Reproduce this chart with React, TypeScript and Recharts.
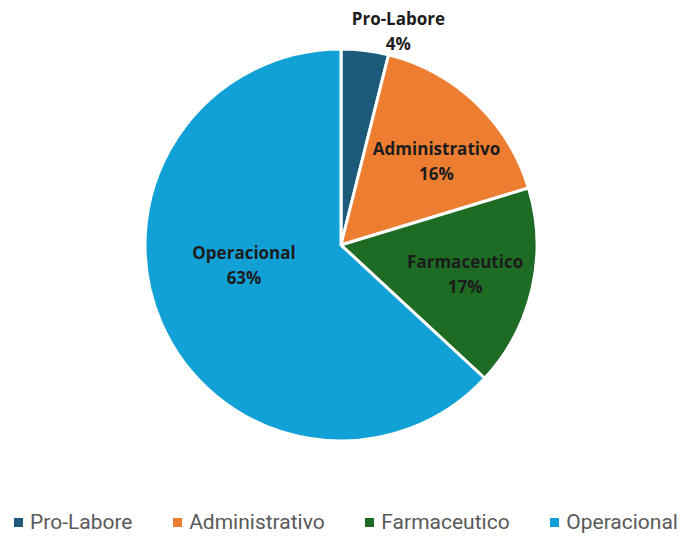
import React from "react";
import { PieChart, Pie, Cell, Legend } from "recharts";

const categories = ["Pro-Labore", "Administrativo", "Farmaceutico", "Operacional"];
const values = [3.9, 16.4, 16.6, 63.1];
const colors = ["#1d5a7c", "#ed7d31", "#1e6b24", "#12a1d6"];
const labelRadiusFactors = [1.13, 0.65, 0.65, 0.505];
const labelAngleOffsets = [-8, -5, 0, -12];

const data = categories.map((name, i) => ({ name, value: values[i] }));

const RAD = Math.PI / 180;

const renderLabel = (props: any) => {
  const { cx, cy, midAngle, outerRadius, percent, index, name } = props;
  const r = outerRadius * labelRadiusFactors[index];
  const a = midAngle + labelAngleOffsets[index];
  const x = cx + r * Math.cos(-a * RAD);
  const y = cy + r * Math.sin(-a * RAD);
  return (
    <text
      x={x}
      y={y}
      textAnchor="middle"
      fill="#1c1c1c"
      fontFamily="'Open Sans', sans-serif"
      fontWeight={700}
      fontSize={17}
    >
      <tspan x={x} dy={-6}>{name}</tspan>
      <tspan x={x} dy={25}>{Math.round(percent * 100)}%</tspan>
    </text>
  );
};

const renderLegend = () => (
  <div style={{ display: "flex", justifyContent: "space-between", padding: "0 4px 0 14px", fontFamily: "Roboto, sans-serif", fontSize: 21, color: "#595959", lineHeight: "24px" }}>
    {categories.map((name, i) => (
      <div key={name} style={{ display: "flex", alignItems: "center" }}>
        <span style={{ display: "inline-block", width: 9, height: 9, background: colors[i], marginRight: 7 }} />
        <span>{name}</span>
      </div>
    ))}
  </div>
);

export default function App() {
  return (
    <div style={{ position: "absolute", left: 0, top: 0, width: 682, height: 536, background: "#fff" }}>
      <PieChart width={682} height={536}>
        <Pie
          data={data}
          dataKey="value"
          nameKey="name"
          cx={336}
          cy={240}
          outerRadius={196}
          startAngle={90}
          endAngle={-270}
          stroke="#ffffff"
          strokeWidth={3}
          label={renderLabel}
          labelLine={false}
          isAnimationActive={false}
        >
          {data.map((d, i) => (
            <Cell key={d.name} fill={colors[i]} />
          ))}
        </Pie>
        <Legend verticalAlign="bottom" content={renderLegend} wrapperStyle={{ bottom: 2, left: 0, width: 682 }} />
      </PieChart>
    </div>
  );
}
